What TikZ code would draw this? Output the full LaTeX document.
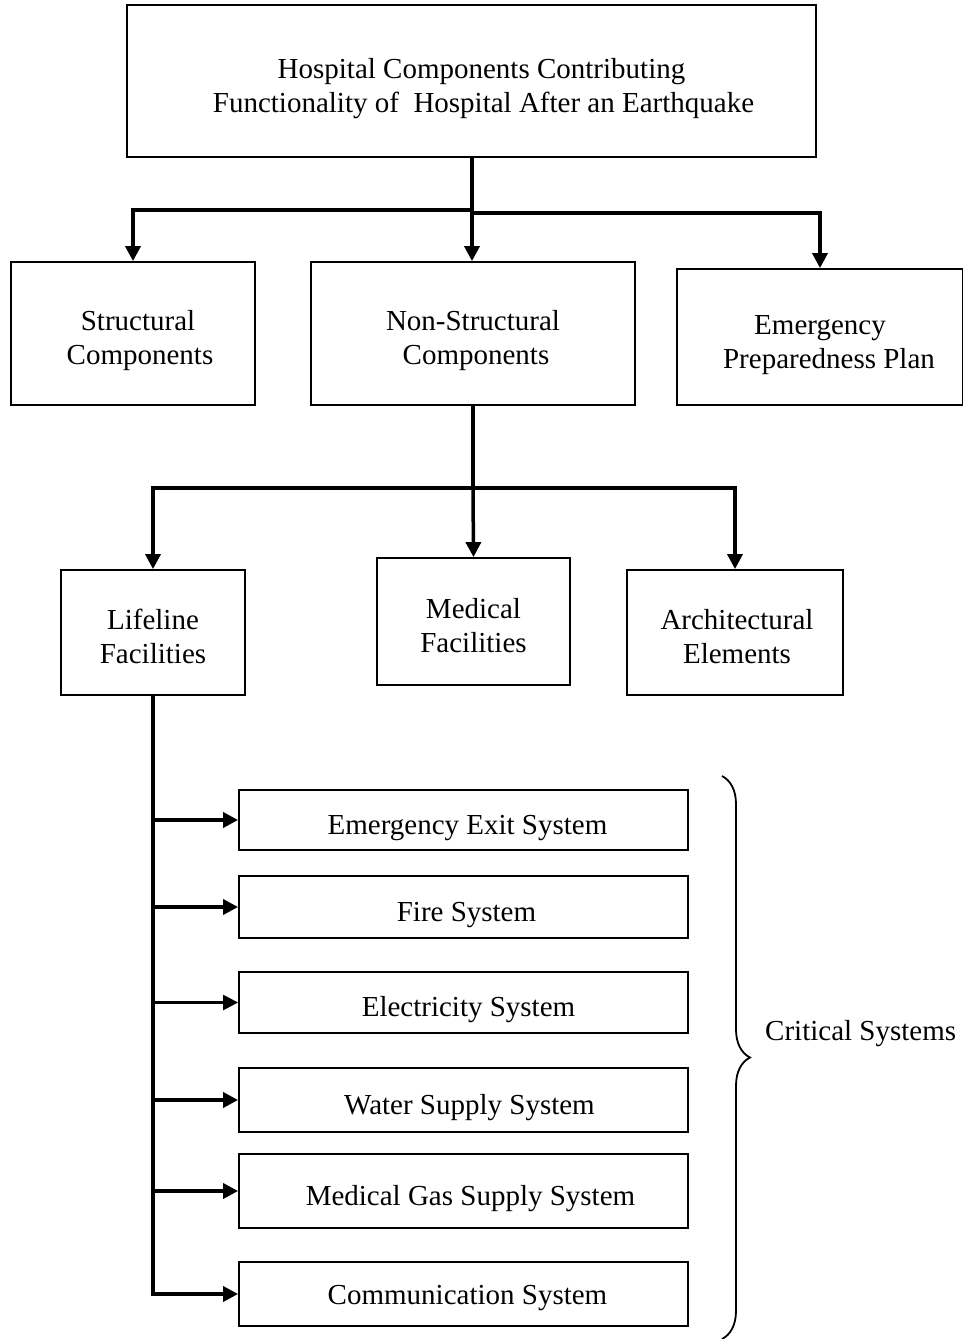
\documentclass[tikz,border=0pt]{standalone}
\usepackage{fontspec}
\setmainfont{Liberation Serif}
\usetikzlibrary{arrows.meta,decorations.pathreplacing}
\newcommand\upA{\rule{0pt}{34.5pt}}
\newcommand\upB{\rule{0pt}{27.5pt}}
\begin{document}
\begin{tikzpicture}[x=1pt,y=-1pt,
  box/.style={draw,line width=1.8pt,rectangle,inner sep=0pt,align=center,
    font=\fontsize{29}{34}\selectfont},
  conn/.style={line width=3.5pt,-{Triangle[width=15pt,length=15pt]}},
  thinconn/.style={line width=2.4pt,-{Triangle[width=15pt,length=15pt]}},
  lbl/.style={inner sep=0pt,font=\fontsize{29}{34}\selectfont}]
\useasboundingbox (0,0) rectangle (962,1339);
% level 1
\node[box,minimum width=689pt,minimum height=152pt] (top) at (471.5,81)
  {\upA\hspace*{20pt}Hospital Components Contributing\\\hspace*{24pt}Functionality of\ \ Hospital After an Earthquake};
% level 2
\node[box,minimum width=244pt,minimum height=143pt] (struct) at (133,333.5)
  {\upA\hspace*{10pt}Structural\\\hspace*{14pt}Components};
\node[box,minimum width=324pt,minimum height=143pt] (nonstruct) at (473,333.5)
  {\upA Non-Structural\\\hspace*{6pt}Components};
\node[box,minimum width=286pt,minimum height=136pt] (emerg) at (820,337)
  {\upA Emergency\\\hspace*{18pt}Preparedness Plan};
% level 3
\node[box,minimum width=184pt,minimum height=125pt] (life) at (153,632.5)
  {\upB Lifeline\\Facilities};
\node[box,minimum width=193pt,minimum height=127pt] (medical) at (473.5,621.5)
  {\upB Medical\\Facilities};
\node[box,minimum width=216pt,minimum height=125pt] (arch) at (735,632.5)
  {\upB\hspace*{4pt}Architectural\\\hspace*{4pt}Elements};
% level 4
\node[box,minimum width=449pt,minimum height=60pt] (exit) at (463.5,820)
  {\upA\hspace*{8pt}Emergency Exit System};
\node[box,minimum width=449pt,minimum height=62pt] (fire) at (463.5,907)
  {\upA\hspace*{6pt}Fire System};
\node[box,minimum width=449pt,minimum height=61pt] (elec) at (463.5,1002.5)
  {\upA\hspace*{10pt}Electricity System};
\node[box,minimum width=449pt,minimum height=64pt] (water) at (463.5,1100)
  {\upA\hspace*{12pt}Water Supply System};
\node[box,minimum width=449pt,minimum height=74pt] (gas) at (463.5,1191)
  {\upA\hspace*{14pt}Medical Gas Supply System};
\node[box,minimum width=449pt,minimum height=64pt] (comm) at (463.5,1294)
  {\upB\hspace*{8pt}Communication System};
% connectors level 1 -> 2
\coordinate (j1) at (472,210);
\coordinate (j1b) at (472,213);
\draw[line width=3.5pt] (top.south -| j1) -- (j1b);
\draw[conn] (j1) -| (struct.north);
\draw[conn] (j1) -- (j1 |- nonstruct.north);
\draw[conn] (j1b) -| (emerg.north);
% connectors level 2 -> 3
\coordinate (j2) at (473,488);
\draw[line width=3.5pt] (nonstruct.south) -- (j2);
\draw[conn] (j2) -| (life.north);
\draw[conn] (j2) -- (medical.north);
\draw[conn] (j2) -| (arch.north);
% connectors level 3 -> 4
\draw[conn] (life.south) |- (comm.west);
\draw[conn] (life.south |- exit.west) -- (exit.west);
\draw[conn] (life.south |- fire.west) -- (fire.west);
\draw[thinconn] (life.south |- elec.west) -- (elec.west);
\draw[conn] (life.south |- water.west) -- (water.west);
\draw[conn] (life.south |- gas.west) -- (gas.west);
% brace
\coordinate (bt) at (722,776);
\coordinate (bb) at (722,1339);
\draw[line width=1.8pt,decorate,decoration={brace,amplitude=28pt}] (bt) -- (bb);
\node[lbl,anchor=west] (crit) at (765,1034) {Critical Systems};
\end{tikzpicture}
\end{document}
